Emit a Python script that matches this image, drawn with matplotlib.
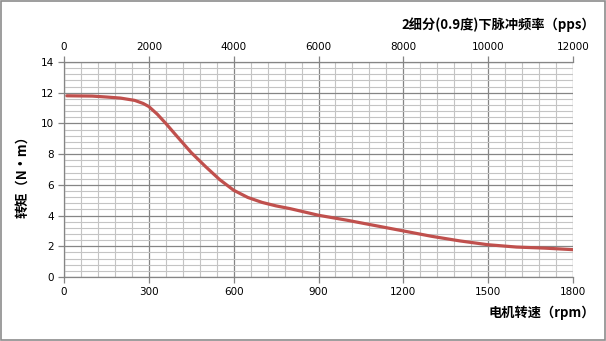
import matplotlib.pyplot as plt
from matplotlib.patches import Rectangle
import numpy as np

plt.rcParams['font.family'] = ['DejaVu Sans', 'Noto Sans CJK SC']

# torque curve
rpm = [10, 100, 150, 200, 250, 280, 300, 330, 360, 400, 450, 500, 550, 600,
       650, 700, 750, 800, 900, 1000, 1100, 1200, 1300, 1400, 1500, 1600,
       1700, 1800]
torque = [11.8, 11.78, 11.72, 11.65, 11.5, 11.3, 11.1, 10.6, 10.0, 9.15,
          8.1, 7.2, 6.35, 5.65, 5.18, 4.86, 4.63, 4.45, 4.02, 3.7, 3.35, 3.0,
          2.65, 2.35, 2.1, 1.95, 1.88, 1.78]

xticks_rpm = [0, 300, 600, 900, 1200, 1500, 1800]
xticks_pps = [0, 2000, 4000, 6000, 8000, 10000, 12000]
yticks = [0, 2, 4, 6, 8, 10, 12, 14]

cjk = ['Noto Sans CJK SC', 'DejaVu Sans']

fig = plt.figure(figsize=(6.06, 3.41), dpi=100)
fig.patches.append(Rectangle((0.001, 0.002), 0.997, 0.995, transform=fig.transFigure,
                             fill=False, edgecolor='#8c8c8c', linewidth=1.2))

ax = fig.add_axes([64/606, 1 - 277/341, 509/606, 215/341])
ax.set_xlim(0, 1800)
ax.set_ylim(0, 14)

# grid
ax.set_xticks(np.arange(0, 1801, 60), minor=True)
ax.set_yticks(np.arange(0, 14.01, 0.4), minor=True)
ax.set_xticks(xticks_rpm)
ax.set_yticks(yticks)
ax.grid(which='minor', color='#c4c4c4', linewidth=0.8)
ax.grid(which='major', color='#858585', linewidth=0.9)
ax.set_axisbelow(True)
ax.tick_params(which='minor', length=0)
ax.tick_params(which='major', length=4, width=0.9, color='#858585',
               labelsize=7.5, pad=3)

for s in ['top', 'right']:
    ax.spines[s].set_visible(False)
for s in ['left', 'bottom']:
    ax.spines[s].set_color('#858585')
    ax.spines[s].set_linewidth(0.9)

ax.plot(rpm, torque, color='#c0504d', linewidth=2.3, solid_capstyle='round',
        solid_joinstyle='round')

# top axis in pulses per second
ax2 = ax.twiny()
ax2.set_xlim(0, 12000)
ax2.set_xticks(xticks_pps)
ax2.tick_params(length=4, width=0.9, color='#858585', labelsize=7.5, pad=3)
for s in ['bottom', 'left', 'right']:
    ax2.spines[s].set_visible(False)
ax2.spines['top'].set_color('#858585')
ax2.spines['top'].set_linewidth(0.9)

fig.text(595/606, 1 - 25/341, '2细分(0.9度)下脉冲频率（pps）', ha='right', va='center',
         fontsize=9.5, fontweight='bold', family=cjk)
fig.text(595/606, 1 - 313/341, '电机转速（rpm）', ha='right', va='center',
         fontsize=9.5, fontweight='bold', family=cjk)
fig.text(22/606, 1 - 174/341, '转矩（N·m）', ha='center', va='center', rotation=90,
         fontsize=9.5, fontweight='bold', family=cjk)

fig.savefig('out.png', dpi=100)
